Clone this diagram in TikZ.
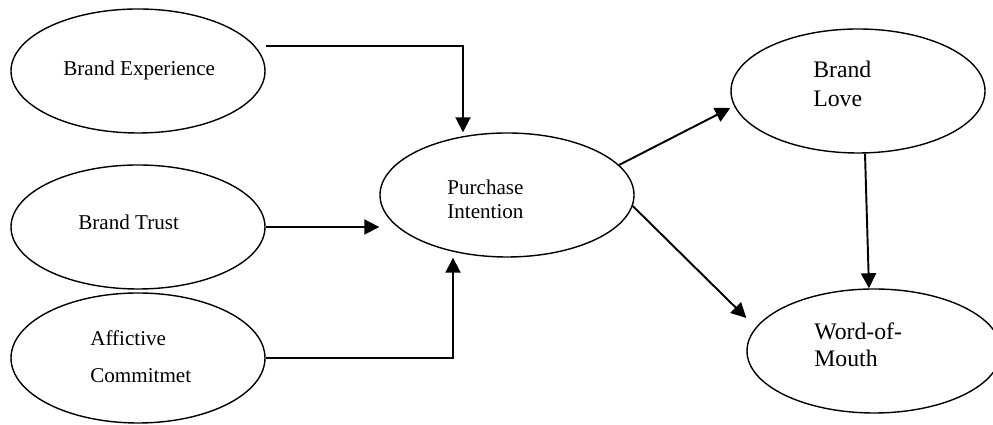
\documentclass[tikz,border=0pt]{standalone}
\usepackage{fontspec}
\setmainfont{Liberation Serif}
\usetikzlibrary{shapes.geometric,arrows.meta}

\begin{document}
\begin{tikzpicture}[
    construct/.style={draw, ellipse, line width=0.8pt, minimum width=5.08cm, minimum height=2.48cm, inner sep=0pt},
    term/.style={inner sep=0pt, align=left, anchor=base west, font=\fontsize{12}{14.2}\selectfont},
    link/.style={line width=1.1pt, -{Triangle[length=0.3cm,width=0.3cm]}}
]

    \useasboundingbox (0,0) rectangle (19.86,8.5);

    % Constructs
    \node[construct] (exp) at (2.76,7.08) {};
    \node[construct] (trust) at (2.76,3.96) {};
    \node[construct, minimum height=2.6cm] (commit) at (2.76,1.34) {};
    \node[construct] (intent) at (10.14,4.60) {};
    \node[construct] (love) at (17.16,6.68) {};
    \node[construct] (wom) at (17.48,1.48) {};

    % Texts
    \node[term] (exptext) at (1.26,6.98) {Brand Experience};
    \node[term] (trusttext) at (1.56,3.90) {Brand Trust};
    \node[term, font=\fontsize{12}{21.6}\selectfont] (committext) at (1.80,0.84) {Affictive\\Commitmet};
    \node[term] (intenttext) at (8.94,4.12) {Purchase\\Intention};
    \node[term, font=\fontsize{13.5}{16.5}\selectfont] (lovetext) at (16.26,6.36) {Brand\\Love};
    \node[term, font=\fontsize{13.5}{15.4}\selectfont] (womtext) at (16.28,1.16) {Word-of-\\Mouth};

    % Paths
    \draw[link] ([yshift=0.5cm]exp.east) -| ([xshift=-0.88cm]intent.north);
    \draw[link] (trust.east) -- (trust.east -| intent.west);
    \draw[link] (commit.east) -| ([xshift=-1.08cm]intent.south);
    \draw[link] (intent.15) -- ([yshift=-0.34cm]love.west);
    \draw[link] (intent.-5) -- ([yshift=0.66cm]wom.west);
    \draw[link] ([xshift=0.14cm]love.south) -- ([xshift=-0.1cm]wom.north);

\end{tikzpicture}
\end{document}
